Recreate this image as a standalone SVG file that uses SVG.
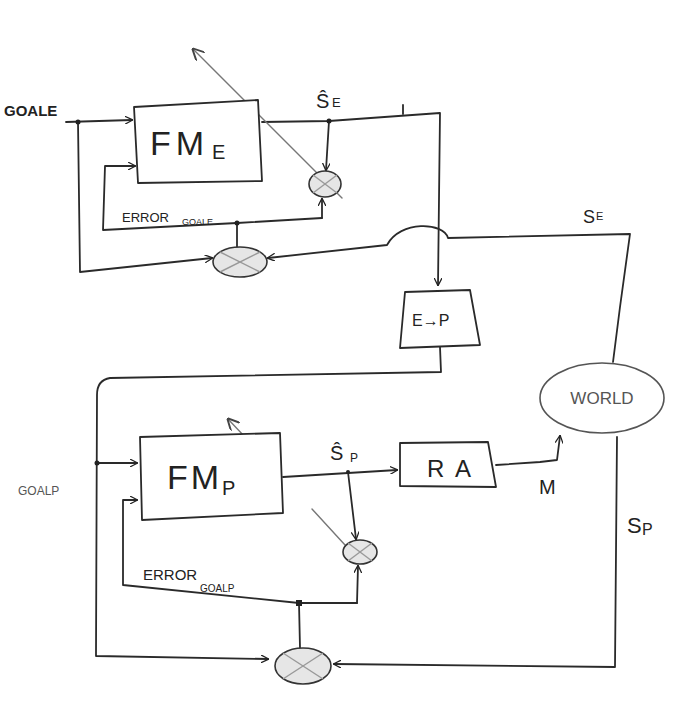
<svg xmlns="http://www.w3.org/2000/svg" width="675" height="705" viewBox="0 0 675 705">
<defs>
<marker id="arr" viewBox="0 0 10 10" refX="9" refY="5" markerWidth="8" markerHeight="8" orient="auto" markerUnits="userSpaceOnUse">
<path d="M0,0 L10,5 L0,10" fill="none" stroke="#222" stroke-width="1.6"/>
</marker>
<marker id="arrs" viewBox="0 0 10 10" refX="9" refY="5" markerWidth="12" markerHeight="12" orient="auto" markerUnits="userSpaceOnUse">
<path d="M0,0 L10,5 L0,10" fill="none" stroke="#444" stroke-width="1.6"/>
</marker>
</defs>
<style>
.ln{fill:none;stroke:#2a2a2a;stroke-width:1.8;stroke-linejoin:round;stroke-linecap:round}
.lg{fill:none;stroke:#777;stroke-width:1.4;stroke-linecap:round}
.box{fill:#fff;stroke:#2a2a2a;stroke-width:1.8;stroke-linejoin:round}
.cmp{fill:#e6e6e6;stroke:#333;stroke-width:1.6}
.cx{stroke:#999;stroke-width:1.4}
.t{font-family:"Liberation Sans",Arial,sans-serif;fill:#222}
.dot{fill:#222}
</style>
<rect width="675" height="705" fill="#fff"/>

<g id="connectors">
<path class="ln" d="M66,122 L132,120" marker-end="url(#arr)"/>
<path class="ln" d="M78,122 L80,272 L212,258" marker-end="url(#arr)"/>
<path class="ln" d="M262,122 L329,121 L440,113 L438,285" marker-end="url(#arr)"/>
<path class="ln" d="M403,105 L403,114"/>
<path class="ln" d="M329,121 L326,170" marker-end="url(#arr)"/>
<path class="ln" d="M237,247 L237,223"/>
<path class="ln" d="M322,218 L237,223 L103,230 L105,166 L135,166" marker-end="url(#arr)"/>
<path class="ln" d="M322,218 L322,199" marker-end="url(#arr)"/>
<path class="ln" d="M613,362 L620,307 L630,234 L448,238 C444,222 400,220 387,245 L268,258" marker-end="url(#arr)"/>
<path class="lg" d="M342,198 L193,49" marker-end="url(#arrs)"/>
<path class="ln" d="M440,347 L441,372 L110,378 Q97,380 97,395 L96,656 L268,659" marker-end="url(#arr)"/>
<path class="ln" d="M97,463 L137,463" marker-end="url(#arr)"/>
<path class="ln" d="M283,477 L397,470" marker-end="url(#arr)"/>
<path class="ln" d="M348,472 L356,539" marker-end="url(#arr)"/>
<path class="ln" d="M496,465 L540,462 L557,460 L560,436" marker-end="url(#arr)"/>
<path class="ln" d="M617,437 L615,667 L334,664" marker-end="url(#arr)"/>
<path class="ln" d="M300,648 L299,603"/>
<path class="ln" d="M357,603 L299,603 L123,585 L123,500 L137,500" marker-end="url(#arr)"/>
<path class="ln" d="M357,603 L358,566" marker-end="url(#arr)"/>
<path class="lg" d="M345,545 L312,509"/>
<path class="lg" d="M260,453 L228,419" marker-end="url(#arrs)"/>
<circle class="dot" cx="78" cy="122" r="2.5"/>
<circle class="dot" cx="329" cy="121" r="2.5"/>
<circle class="dot" cx="237" cy="223" r="2.5"/>
<circle class="dot" cx="97" cy="463" r="2.5"/>
<circle class="dot" cx="348" cy="472" r="2"/>
<rect class="dot" x="296" y="600" width="6" height="6"/>
</g>

<g id="fm_e">
<polygon class="box" points="134,107 258,100 262,181 138,183"/>
<text class="t" x="150" y="155" font-size="34" textLength="54" lengthAdjust="spacing">FM</text>
<text class="t" x="212" y="159" font-size="20">E</text>
</g>

<g id="cmp_se">
<ellipse class="cmp" cx="325" cy="184" rx="16" ry="13"/>
<line class="cx" x1="313" y1="175" x2="337" y2="193"/>
<line class="cx" x1="313" y1="193" x2="337" y2="175"/>
</g>

<g id="cmp_goale">
<ellipse class="cmp" cx="240" cy="262" rx="27" ry="15"/>
<line class="cx" x1="220" y1="252" x2="260" y2="272"/>
<line class="cx" x1="220" y1="272" x2="260" y2="252"/>
</g>

<g id="e2p">
<polygon class="box" points="405,292 470,290 480,345 400,348"/>
<text class="t" x="412" y="326" font-size="16">E→P</text>
</g>

<g id="world">
<ellipse cx="602" cy="398" rx="62" ry="35" fill="#fff" stroke="#555" stroke-width="1.6"/>
<text class="t" x="602" y="404" font-size="17" text-anchor="middle" style="fill:#555">WORLD</text>
</g>

<g id="fm_p">
<polygon class="box" points="140,437 280,433 283,513 142,520"/>
<text class="t" x="167" y="489" font-size="34" textLength="52" lengthAdjust="spacing">FM</text>
<text class="t" x="222" y="495" font-size="20">P</text>
</g>

<g id="ra">
<polygon class="box" points="400,443 488,442 496,487 400,486"/>
<text class="t" x="427" y="477" font-size="24" textLength="44" lengthAdjust="spacing">RA</text>
</g>

<g id="cmp_sp">
<ellipse class="cmp" cx="360" cy="552" rx="17" ry="12"/>
<line class="cx" x1="348" y1="543" x2="372" y2="561"/>
<line class="cx" x1="348" y1="561" x2="372" y2="543"/>
</g>

<g id="cmp_goalp">
<ellipse class="cmp" cx="303" cy="666" rx="28" ry="18"/>
<line class="cx" x1="283" y1="653" x2="323" y2="679"/>
<line class="cx" x1="283" y1="679" x2="323" y2="653"/>
</g>

<g id="labels">
<text class="t" x="4" y="116" font-size="15" font-weight="bold">GOALE</text>
<text class="t" x="316" y="108" font-size="20">Ŝ</text>
<text class="t" x="332" y="107" font-size="13">E</text>
<text class="t" x="122" y="222" font-size="13">ERROR</text>
<text class="t" x="182" y="225" font-size="9">GOALE</text>
<text class="t" x="583" y="223" font-size="18">S</text>
<text class="t" x="596" y="220" font-size="11">E</text>
<text class="t" x="18" y="495" font-size="12" style="fill:#555">GOALP</text>
<text class="t" x="330" y="460" font-size="20">Ŝ</text>
<text class="t" x="350" y="462" font-size="12">P</text>
<text class="t" x="539" y="494" font-size="20">M</text>
<text class="t" x="627" y="533" font-size="22">S</text>
<text class="t" x="642" y="535" font-size="16">P</text>
<text class="t" x="143" y="580" font-size="15">ERROR</text>
<text class="t" x="200" y="592" font-size="10">GOALP</text>
</g>
</svg>
